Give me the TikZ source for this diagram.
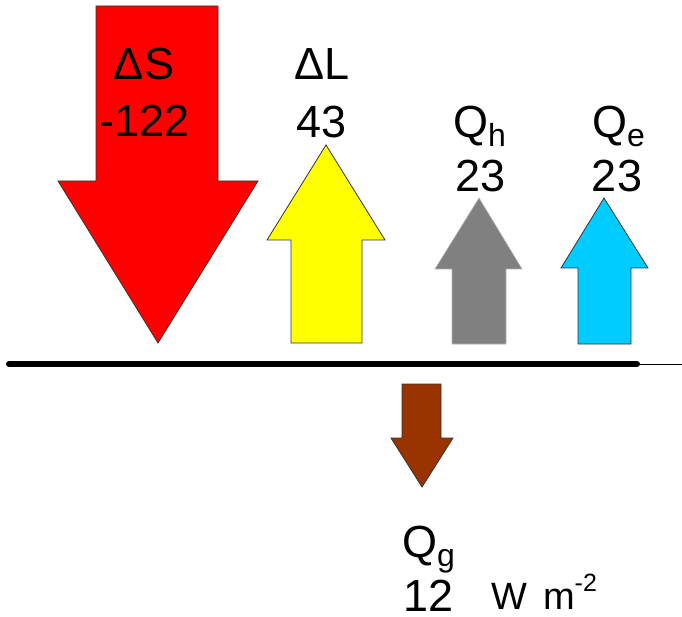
\documentclass[tikz,border=0pt]{standalone}
\usepackage{fontspec}
\setmainfont{Liberation Sans}
\newcommand{\bigf}{\fontsize{45}{50}\selectfont}
\newcommand{\subf}{\fontsize{32}{35}\selectfont}
\newcommand{\unitf}{\fontsize{38}{42}\selectfont}
\newcommand{\supf}{\fontsize{25}{28}\selectfont}
\newcommand{\Qsub}[1]{Q\raisebox{-0.2em}{\subf #1}}
\definecolor{flred}{RGB}{255,0,0}
\definecolor{flyellow}{RGB}{255,255,0}
\definecolor{flgray}{RGB}{128,128,128}
\definecolor{flcyan}{RGB}{0,204,255}
\definecolor{flbrown}{RGB}{153,51,0}
\tikzset{
  fluxarrow/.style={draw=black!80, line width=0.8pt, line join=miter},
  lbl/.style={inner sep=0pt, anchor=base, font=\bigf},
  lblw/.style={inner sep=0pt, anchor=base west, font=\bigf},
}
\begin{document}
\begin{tikzpicture}[x=1pt, y=-1pt]
\useasboundingbox (0,0) rectangle (682,617);
% Delta S (down)
\path[fluxarrow, fill=flred] (96,6) -- (218,6) -- (218,181) -- (258,181) -- (158,343) -- (58,181) -- (96,181) -- cycle;
% Delta L (up)
\path[fluxarrow, fill=flyellow] (326,145) -- (385,240) -- (362,240) -- (362,343) -- (291,343) -- (291,240) -- (267,240) -- cycle;
% Qh (up)
\path[draw=black!30, line width=0.6pt, fill=flgray] (479,198) -- (522,269) -- (506,269) -- (506,344) -- (452,344) -- (452,269) -- (435,269) -- cycle;
% Qe (up)
\path[fluxarrow, fill=flcyan] (604,198) -- (648,268) -- (631,268) -- (631,344) -- (578,344) -- (578,268) -- (561,268) -- cycle;
% Qg (down)
\path[fluxarrow, fill=flbrown] (402,384) -- (441,384) -- (441,438) -- (453,438) -- (422,487) -- (391,438) -- (402,438) -- cycle;
% surface line
\coordinate (sl) at (9,364);
\coordinate (sm) at (637,364);
\coordinate (sr) at (682,364);
\draw[line width=6pt, line cap=round] (sl) -- (sm);
\draw[line width=1pt] (sm) -- (sr);
% labels
\node[lbl] (dS) at (144,80) {ΔS};
\node[lbl] (vS) at (145,137) {-122};
\node[lbl] (dL) at (322,80) {ΔL};
\node[lbl] (vL) at (322,138) {43};
\node[lblw] (qh) at (453,138) {\Qsub{h}};
\node[lbl] (vh) at (481,192) {23};
\node[lblw] (qe) at (592,138) {\Qsub{e}};
\node[lbl] (ve) at (617,192) {23};
\node[lblw] (qg) at (402,557) {\Qsub{g}};
\node[lbl] (vg) at (429,611) {12};
\node[inner sep=0pt, anchor=base west, font=\unitf] (unit) at (491,609) {W\hspace{0.42em}m\raisebox{0.47em}{\supf -2}};
\end{tikzpicture}
\end{document}
